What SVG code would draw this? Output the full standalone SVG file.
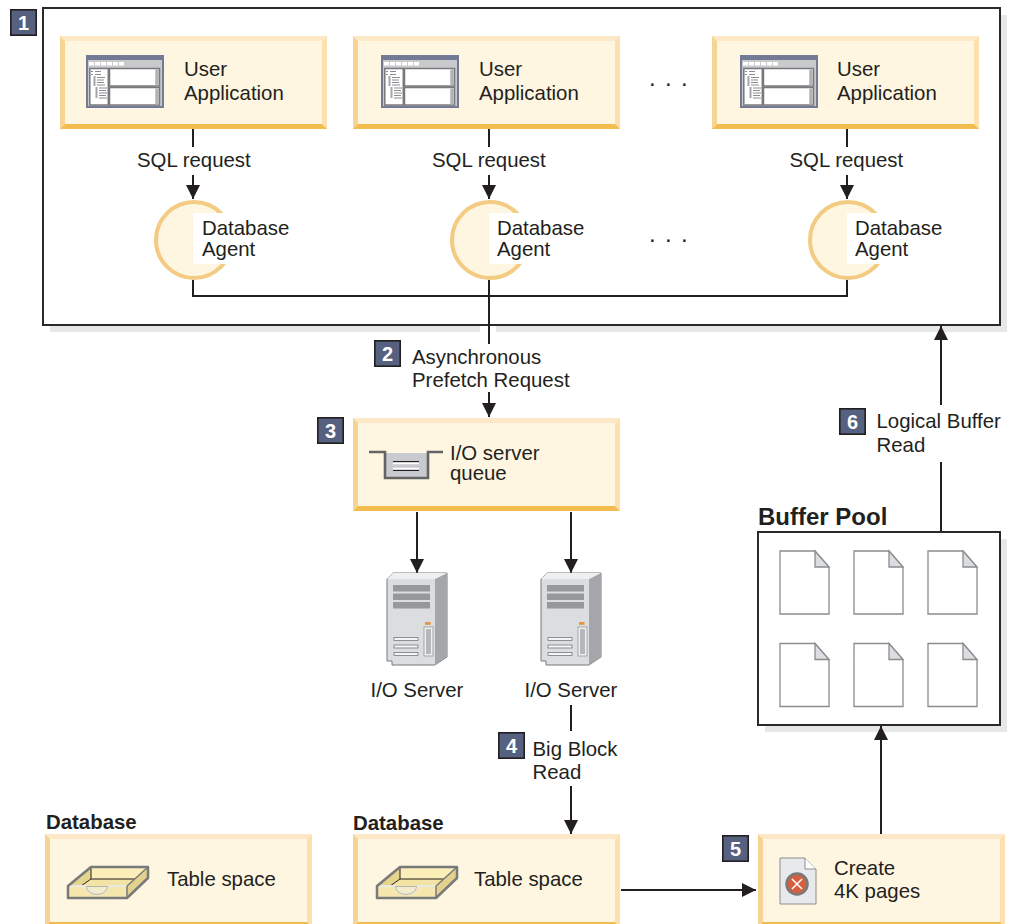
<svg xmlns="http://www.w3.org/2000/svg" width="1011" height="924" viewBox="0 0 1011 924">
<style>
text{font-family:"Liberation Sans",Arial,sans-serif;font-size:20.4px;fill:#231f20}
.b{font-weight:bold}
.num{font-weight:bold;font-size:20px;fill:#fff;text-anchor:middle}
.dots{font-size:24px;letter-spacing:9.3px}
.line{fill:none;stroke:#231f20;stroke-width:2}
.frame{fill:#fff;stroke:#2b2a2b;stroke-width:2}
.shadow{fill:#e6e7e8}
.page{fill:#fff;stroke:#8a8c8e;stroke-width:1.3}
</style>
<defs>
<marker id="arrow" markerUnits="userSpaceOnUse" markerWidth="15" markerHeight="15" refX="14" refY="7" orient="auto"><path d="M0 0L14 7L0 14Z" fill="#231f20"/></marker>
<g id="badge"><rect x="0.800" y="0.800" width="25.400" height="25.400" fill="#56607f" stroke="#231f20" stroke-width="1.600"/></g>
<g id="bevel">
<rect width="267" height="93" fill="#fef6e0"/>
<path d="M0 0H267L262 5H5Z" fill="#fde9c7"/>
<path d="M0 0L5 5V88L0 93Z" fill="#f6d594"/>
<path d="M267 0L262 5V88L267 93Z" fill="#fde0ad"/>
<path d="M0 93L5 88H262L267 93Z" fill="#f2bc4f"/>
</g>
<g id="win">
<rect width="78" height="53" fill="#737a96"/>
<rect x="2" y="5" width="74" height="46" fill="#c8cacc"/>
<g fill="#fff"><rect x="3" y="7" width="5" height="3.500"/><rect x="9" y="7" width="5" height="3.500"/><rect x="15" y="7" width="5" height="3.500"/><rect x="21" y="7" width="5" height="3.500"/><rect x="27" y="7" width="5" height="3.500"/><rect x="33" y="7" width="5" height="3.500"/></g>
<rect x="3.800" y="13.500" width="18.500" height="36.500" fill="#fff" stroke="#77797b" stroke-width="1.500"/>
<rect x="23.500" y="13.500" width="50" height="17.500" fill="#fff" stroke="#77797b" stroke-width="1.500"/>
<rect x="23.500" y="32.500" width="50" height="17.500" fill="#fff" stroke="#77797b" stroke-width="1.500"/>
<path d="M5 16.500h2M5 19.500h2M9 16.500h6M9 19.500h6M11 22.500h8M11 25h7M11 27.500h7M11 30h8M13 33h8M13 35.500h7M13 38h8M13 40.500h7M13 43h8" stroke="#8a8c8e" stroke-width="1" fill="none"/>
<path d="M8.500 21v10M10.500 32v11" stroke="#a4a6a9" stroke-width="2"/>
<path d="M71 14.500v16M71 33.500v16" stroke="#b0b2b4" stroke-width="3.500"/>
</g>
<g id="agent">
<circle cx="1" cy="0" r="38" fill="#fef6e0" stroke="#f3cb82" stroke-width="4"/>
<rect x="0" y="-27" width="44" height="51" fill="#fff"/>
</g>
<g id="server">
<path d="M0 6L6 0H60V84L48 92H5V88H0Z" fill="#dcdddf" stroke="#77797b" stroke-width="1"/>
<path d="M48 6L60 0V84L48 92Z" fill="#a4a6a9"/>
<path d="M0 6L6 0H60L48 6Z" fill="#eeeff0"/>
<g fill="#96989b"><rect x="6" y="12" width="37" height="6.500"/><rect x="6" y="20.500" width="37" height="6.500"/><rect x="6" y="29" width="37" height="6.500"/></g>
<rect x="38" y="49" width="5.500" height="2.800" fill="#e8963c"/>
<rect x="37" y="54" width="9" height="29" fill="#f0f0f1" stroke="#a4a6a9" stroke-width="1"/>
<rect x="39" y="56" width="5" height="25" fill="#b5b7b9"/>
<g fill="#f4f4f5" stroke="#77797b" stroke-width="0.800"><rect x="7" y="64.500" width="24" height="3"/><rect x="7" y="72" width="24" height="3"/><rect x="7" y="79.500" width="24" height="3"/></g>
</g>
<g id="tray">
<path d="M1 20L24 1H81V12L60 32H1Z" fill="#f6e7ae"/>
<path d="M24 1H81V13H24Z" fill="#fbeeb9"/>
<path d="M2 20L24 2V13L14 20Z" fill="#e4d48e"/>
<path d="M24 13H79L60 20H14Z" fill="#f3e3a4"/>
<path d="M24 13H79" stroke="#231f20" stroke-width="1.200" fill="none"/>
<path d="M24 1V13L14 20" stroke="#231f20" stroke-width="1" fill="none"/>
<path d="M60 20L81 1V12L60 32Z" fill="#e3d28d"/>
<path d="M1 20H19C20 31 40 31 41 20H60" fill="none" stroke="#e9e9e4" stroke-width="2"/>
<path d="M19.500 20.500C20.500 31 39.500 31 40.500 20.500Z" fill="#f2eccd" stroke="#a4a6a9" stroke-width="0.800"/>
<path d="M60 20V32M60 20L81 1" stroke="#77797b" stroke-width="1.500" fill="none"/>
<path d="M1 20L24 1H81V12L60 32H1Z" fill="none" stroke="#77797b" stroke-width="2.500" stroke-linejoin="round"/>
</g>
<g id="doc">
<path d="M0 0H35L49 16V63H0Z" class="page"/>
<path d="M35 0V16H49Z" fill="#dcdde0" stroke="#8a8c8e" stroke-width="1.300"/>
</g>
</defs>

<rect class="shadow" x="50" y="15" width="957" height="317"/>
<rect class="shadow" x="765" y="539" width="242" height="193"/>
<rect x="480" y="325" width="16" height="8" fill="#fff"/>

<g id="container-1"><rect class="frame" x="43" y="8" width="957" height="317"/></g>

<g id="connectors">
<path class="line" d="M193 129V147"/><path class="line" d="M193 175V199" marker-end="url(#arrow)"/>
<path class="line" d="M489 129V147"/><path class="line" d="M489 175V199" marker-end="url(#arrow)"/>
<path class="line" d="M847 129V147"/><path class="line" d="M847 175V199" marker-end="url(#arrow)"/>
<path class="line" d="M193 280V296H847V280"/>
<path class="line" d="M489 280V344"/>
<path class="line" d="M489 392V417" marker-end="url(#arrow)"/>
<path class="line" d="M417 512V573" marker-end="url(#arrow)"/>
<path class="line" d="M571 512V573" marker-end="url(#arrow)"/>
<path class="line" d="M571 705V731"/>
<path class="line" d="M571 786V834" marker-end="url(#arrow)"/>
<path class="line" d="M621 890H756" marker-end="url(#arrow)"/>
<path class="line" d="M881 834V726" marker-end="url(#arrow)"/>
<path class="line" d="M941 532V462"/>
<path class="line" d="M941 405V326" marker-end="url(#arrow)"/>
</g>

<g id="badge-1"><use href="#badge" x="10" y="9"/><text class="num" x="23.500" y="29.500">1</text></g>
<g id="app-1"><use href="#bevel" x="60" y="36"/><use href="#win" x="86" y="55"/><text x="184" y="76">User</text><text x="184" y="100">Application</text></g>
<g id="app-2"><use href="#bevel" x="353" y="36"/><use href="#win" x="381" y="55"/><text x="479" y="76">User</text><text x="479" y="100">Application</text></g>
<g id="app-3"><use href="#bevel" x="712" y="36"/><use href="#win" x="740" y="55"/><text x="837" y="76">User</text><text x="837" y="100">Application</text></g>
<text class="dots" x="649" y="86">...</text>
<text class="dots" x="649" y="242">...</text>
<text x="137" y="167">SQL request</text><text x="432" y="167">SQL request</text><text x="789.500" y="167">SQL request</text>
<g id="agent-1"><use href="#agent" x="193" y="240"/><text x="202" y="235">Database</text><text x="202" y="256">Agent</text></g>
<g id="agent-2"><use href="#agent" x="489" y="240"/><text x="497" y="235">Database</text><text x="497" y="256">Agent</text></g>
<g id="agent-3"><use href="#agent" x="847" y="240"/><text x="855" y="235">Database</text><text x="855" y="256">Agent</text></g>

<g id="badge-2"><use href="#badge" x="374" y="340"/><text class="num" x="387.500" y="360.500">2</text></g>
<text x="412" y="364">Asynchronous</text><text x="412" y="387">Prefetch Request</text>

<g id="badge-3"><use href="#badge" x="317" y="417"/><text class="num" x="330.500" y="437.500">3</text></g>
<g id="queue"><use href="#bevel" x="353" y="418"/>
<rect x="385" y="453" width="43" height="25" fill="#c8cacf"/>
<path d="M369 452H385V478H428V452H443" fill="none" stroke="#636466" stroke-width="2.600"/>
<path d="M393 461.500H419M393 470.500H419" stroke="#231f20" stroke-width="1.200"/><path d="M393 463.500H419M393 468.500H419" stroke="#fff" stroke-width="1.500"/>
<text x="450" y="460">I/O server</text><text x="450" y="480">queue</text></g>

<g id="server-1"><use href="#server" x="387" y="573"/><text x="370.500" y="697">I/O Server</text></g>
<g id="server-2"><use href="#server" x="541" y="573"/><text x="524.500" y="697">I/O Server</text></g>

<g id="badge-4"><use href="#badge" x="498" y="732"/><text class="num" x="511.500" y="752.500">4</text></g>
<text x="532.500" y="756">Big Block</text><text x="532.500" y="779">Read</text>

<g id="badge-6"><use href="#badge" x="839" y="408"/><text class="num" x="852.500" y="428.500">6</text></g>
<text x="876.500" y="428">Logical Buffer</text><text x="876.500" y="452">Read</text>

<g id="buffer-pool"><text class="b" x="758" y="525" style="font-size:24px">Buffer Pool</text>
<rect class="frame" x="758" y="532" width="242" height="193"/>
<use href="#doc" x="780" y="551"/><use href="#doc" x="854" y="551"/><use href="#doc" x="928" y="551"/>
<use href="#doc" x="780" y="643.500"/><use href="#doc" x="854" y="643.500"/><use href="#doc" x="928" y="643.500"/></g>

<g id="database-1"><text class="b" x="46" y="829">Database</text><use href="#bevel" x="45" y="834"/><use href="#tray" x="67" y="866"/><text x="167" y="886">Table space</text></g>
<g id="database-2"><text class="b" x="353" y="830">Database</text><use href="#bevel" x="353" y="834"/><use href="#tray" x="376" y="866"/><text x="474" y="886">Table space</text></g>

<g id="badge-5"><use href="#badge" x="722" y="835"/><text class="num" x="735.500" y="855.500">5</text></g>
<g id="create">
<rect x="758" y="834" width="247" height="93" fill="#fef6e0"/>
<path d="M758 834H1005L1000 839H763Z" fill="#fde9c7"/>
<path d="M758 834L763 839V922L758 927Z" fill="#f6d594"/>
<path d="M1005 834L1000 839V922L1005 927Z" fill="#fde0ad"/>
<path d="M758 927L763 922H1000L1005 927Z" fill="#f2bc4f"/>
<path d="M780 858H805L816 869V904H780Z" fill="#e8e9ea" stroke="#8a8c8e"/><path d="M805 858V869H816" fill="#fff" stroke="#8a8c8e"/>
<circle cx="797" cy="884" r="10.500" fill="#d4603f" stroke="#77797b" stroke-width="2.500"/>
<path d="M792 879L802 889M802 879L792 889" stroke="#fff" stroke-width="1.500"/>
<text x="834" y="875">Create</text><text x="834" y="898">4K pages</text></g>
</svg>
